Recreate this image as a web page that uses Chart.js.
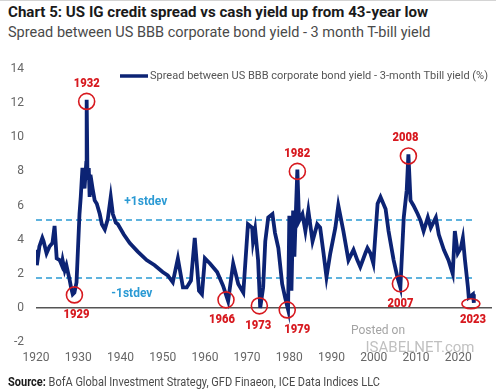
<!DOCTYPE html>
<html>
<head>
<meta charset="utf-8">
<script src="https://cdn.jsdelivr.net/npm/chart.js@4.4.0/dist/chart.umd.min.js"></script>
<style>
  body { margin: 0; width: 500px; height: 391px; position: relative; overflow: hidden; background: #fff;
         font-family: "Roboto", "Liberation Sans", sans-serif; }
  .topline { position: absolute; left: 0; top: 0; width: 496px; height: 1px; background: #d4d4d4; }
  .fit { position: absolute; left: 8px; white-space: nowrap; transform-origin: 0 0; }
  #title { top: 2px; font-size: 15.5px; font-weight: bold; color: #1a1a1a; line-height: 20px; }
  #subtitle { top: 23px; font-size: 14.5px; color: #4a4a4a; line-height: 20px; }
  #wrap { position: absolute; left: 0; top: 48px; width: 500px; height: 343px; }
  #source { top: 373px; font-size: 12.5px; color: #4a4a4a; line-height: 18px; }
  #source b { color: #1a1a1a; }
</style>
</head>
<body>
<div class="topline"></div>
<div id="wrap"><canvas id="graphique"></canvas></div>
<div id="title" class="fit">Chart 5: US IG credit spread vs cash yield up from 43-year low</div>
<div id="subtitle" class="fit">Spread between US BBB corporate bond yield - 3 month T-bill yield</div>
<div id="source" class="fit"><b>Source:</b> BofA Global Investment Strategy, GFD Finaeon, ICE Data Indices LLC</div>
<script>
// Donnees (annee, spread en %)
const years = [
  1920.0, 1920.2, 1920.8, 1921.5, 1921.8, 1922.5, 1923.2, 1923.9, 1924.4, 1924.9,
  1925.6, 1926.1, 1926.3, 1926.8, 1927.2, 1928.0, 1928.3, 1928.7, 1929.1, 1929.6,
  1930.3, 1930.6, 1931.0, 1931.5, 1931.9, 1932.0, 1932.2, 1932.5, 1932.7, 1932.9,
  1933.4, 1933.9, 1934.4, 1935.1, 1935.6, 1936.3, 1937.0, 1937.7, 1938.2, 1938.9,
  1939.4, 1940.8, 1942.2, 1944.1, 1946.2, 1948.1, 1950.0, 1951.2, 1952.4, 1953.6,
  1954.8, 1955.7, 1956.7, 1957.6, 1958.6, 1959.3, 1960.0, 1961.2, 1962.9, 1964.3,
  1965.5, 1966.7, 1967.9, 1969.1, 1970.2, 1971.2, 1971.4, 1971.9, 1972.6, 1973.1,
  1973.8, 1974.3, 1975.0, 1976.0, 1976.6, 1977.4, 1978.3, 1979.0, 1979.7, 1980.0,
  1980.5, 1980.9, 1981.2, 1981.6, 1981.9, 1982.3, 1983.1, 1983.8, 1984.5, 1985.5,
  1986.6, 1987.3, 1988.1, 1988.8, 1989.7, 1990.9, 1991.6, 1992.8, 1994.0, 1995.2,
  1996.1, 1996.8, 1998.0, 1998.5, 1999.2, 1999.9, 2000.9, 2001.6, 2002.8, 2003.5,
  2004.7, 2005.6, 2006.3, 2007.1, 2007.8, 2008.2, 2008.7, 2009.4, 2010.4, 2011.1,
  2011.8, 2012.8, 2013.5, 2014.7, 2015.4, 2016.6, 2017.7, 2018.7, 2019.2, 2019.9,
  2020.6, 2021.1, 2021.6, 2022.3, 2022.5, 2023.5, 2023.7
];
const spreads = [
  3.4, 2.5, 3.6, 4.1, 3.9, 3.2, 3.6, 3.8, 4.8, 2.9,
  2.8, 2.5, 2.8, 2.2, 2.5, 1.6, 1.2, 0.8, 0.9, 1.5,
  5.5, 6.5, 8.2, 7.0, 8.5, 12.2, 7.5, 8.2, 6.5, 7.8,
  7.0, 6.3, 6.1, 5.5, 4.9, 4.6, 5.2, 6.5, 5.5, 5.0,
  4.9, 4.3, 3.8, 3.3, 2.8, 2.5, 2.1, 1.9, 1.5, 2.9,
  1.2, 1.2, 1.6, 4.1, 1.0, 0.8, 2.9, 2.6, 2.1, 1.3,
  0.4, 2.6, 1.4, 0.9, 4.9, 4.7, 3.9, 4.6, 2.8, 0.0,
  1.2, 3.9, 5.3, 5.5, 4.4, 3.5, 1.4, 0.6, -0.1, 5.4,
  1.0, 5.7, 3.0, 6.0, 8.1, 5.1, 5.5, 4.5, 5.7, 3.9,
  4.9, 4.7, 3.2, 1.8, 3.2, 4.7, 6.0, 4.5, 2.8, 3.4,
  2.8, 2.4, 3.2, 3.5, 3.2, 2.6, 6.1, 6.5, 5.8, 4.5,
  2.8, 1.8, 1.2, 5.3, 6.9, 9.0, 6.3, 6.0, 5.5, 5.1,
  4.5, 5.3, 4.7, 5.3, 4.3, 3.4, 2.8, 2.0, 4.5, 3.2,
  3.5, 4.1, 2.8, 1.2, 0.6, 0.8, 0.3
];

// Lignes d'ecart-type
const stdevYears = [1920, 2023.7];
const plusStdev = [5.15, 5.15];
const minusStdev = [1.75, 1.75];

// Cercles rouges
const circleYears = [1932.0, 1929.1, 1965.0, 1972.9, 1979.5, 1981.9, 2008.2, 2006.3, 2023.0];
const circleValues = [12.1, 0.76, 0.47, 0.12, -0.12, 8.0, 8.9, 1.41, 0.24];
const circleLabels = ['1932', '1929', '1966', '1973', '1979', '1982', '2008', '2007', '2023'];

const xTicks = [1920, 1930, 1940, 1950, 1960, 1970, 1980, 1990, 2000, 2010, 2020];

const police = '"Roboto", "Liberation Sans", sans-serif';
const rouge = '#d7191f';
const bleuClair = '#2b9ad4';
const marine = '#0c2374';

const toPts = (xs, ys) => xs.map((v, i) => ({ x: v, y: ys[i] }));

// texte etroit : on comprime horizontalement pour garder la largeur de l'original
const texteEtroit = (ctx, txt, x, y, largeur) => {
  const w = ctx.measureText(txt).width;
  const s = Math.min(1, largeur / w);
  ctx.save();
  ctx.translate(x, y);
  ctx.scale(s, 1);
  ctx.fillText(txt, 0, 0);
  ctx.restore();
};

const decor = {
  id: 'decor',
  afterDatasetsDraw(chart) {
    const { ctx, chartArea, scales: { x, y } } = chart;
    ctx.save();

    // legende dans la zone du graphique
    const lx = chartArea.left + 84, ly = chartArea.top + 7;
    ctx.strokeStyle = marine;
    ctx.lineWidth = 3.5;
    ctx.beginPath();
    ctx.moveTo(lx, ly);
    ctx.lineTo(lx + 28, ly);
    ctx.stroke();
    ctx.fillStyle = '#555';
    ctx.font = '11.5px ' + police;
    ctx.textBaseline = 'middle';
    ctx.textAlign = 'left';
    texteEtroit(ctx, 'Spread between US BBB corporate bond yield - 3-month Tbill yield (%)', lx + 30, ly, 338);

    // etiquettes stdev
    ctx.fillStyle = bleuClair;
    ctx.font = 'bold 12px ' + police;
    ctx.textAlign = 'center';
    ctx.fillText('+1stdev', x.getPixelForValue(1946.0), y.getPixelForValue(6.18));
    ctx.fillText('-1stdev', x.getPixelForValue(1942.7), y.getPixelForValue(0.82));

    // cercles et annees
    ctx.strokeStyle = rouge;
    ctx.fillStyle = rouge;
    ctx.lineWidth = 1.6;
    ctx.font = '900 13.5px ' + police;
    ctx.textAlign = 'left';
    const dxs = [0, 2, -4, -1, 10, 0, -3, 0, 2];
    circleYears.forEach((yr, i) => {
      const cx = x.getPixelForValue(yr), cy = y.getPixelForValue(circleValues[i]);
      ctx.beginPath();
      if (circleLabels[i] === '2023') ctx.ellipse(cx, cy, 9, 5, 0, 0, Math.PI * 2);
      else ctx.arc(cx, cy, 8, 0, Math.PI * 2);
      ctx.stroke();
      const above = circleValues[i] > 5;
      const dy = above ? -18 : (circleLabels[i] === '2023' ? 16 : 20);
      texteEtroit(ctx, circleLabels[i], cx + dxs[i] - 13, cy + dy, 26);
    });

    // filigrane
    ctx.textAlign = 'center';
    ctx.fillStyle = 'rgba(140,140,140,0.8)';
    ctx.font = '12px ' + police;
    ctx.fillText('Posted on', 378, 283);
    ctx.font = '15px ' + police;
    ctx.fillStyle = 'rgba(150,150,150,0.6)';
    ctx.fillText('ISABELNET.com', 420, 300);
    ctx.restore();
  }
};

new Chart(document.getElementById('graphique'), {
  type: 'line',
  data: {
    datasets: [
      {
        label: 'Spread between US BBB corporate bond yield - 3-month Tbill yield (%)',
        data: toPts(years, spreads),
        borderColor: marine,
        borderWidth: 3.8,
        pointRadius: 0,
        tension: 0
      },
      {
        label: '+1stdev',
        data: toPts(stdevYears, plusStdev),
        borderColor: bleuClair,
        borderWidth: 1.6,
        borderDash: [6, 4],
        pointRadius: 0
      },
      {
        label: '-1stdev',
        data: toPts(stdevYears, minusStdev),
        borderColor: bleuClair,
        borderWidth: 1.6,
        borderDash: [6, 4],
        pointRadius: 0
      }
    ]
  },
  options: {
    responsive: true,
    maintainAspectRatio: false,
    animation: false,
    layout: { padding: { left: 0, right: 8, top: 21, bottom: 0 } },
    scales: {
      x: {
        type: 'linear',
        min: 1920,
        max: 2028,
        afterBuildTicks: axis => { axis.ticks = xTicks.map(v => ({ value: v })); },
        afterFit: s => { s.height = 49; },
        ticks: { callback: v => String(v), color: '#666', font: { family: police, size: 12 }, padding: 9, maxRotation: 0 },
        grid: { display: false, drawTicks: false },
        border: { display: false }
      },
      y: {
        min: -2,
        max: 14,
        afterFit: s => { s.width = 36; },
        ticks: { stepSize: 2, color: '#666', font: { family: police, size: 12 }, padding: 12 },
        grid: { color: c => c.tick.value === 0 ? '#555' : 'transparent', lineWidth: 1.5, drawTicks: false },
        border: { display: false }
      }
    },
    plugins: {
      legend: { display: false },
      tooltip: { enabled: false }
    }
  },
  plugins: [decor]
});

// ajuster la largeur des textes a celle de l'original
const ajuster = (id, largeur) => {
  const el = document.getElementById(id);
  el.style.transform = 'scaleX(' + (largeur / el.offsetWidth) + ')';
};
ajuster('title', 420);
ajuster('subtitle', 422);
ajuster('source', 372);
</script>
</body>
</html>
